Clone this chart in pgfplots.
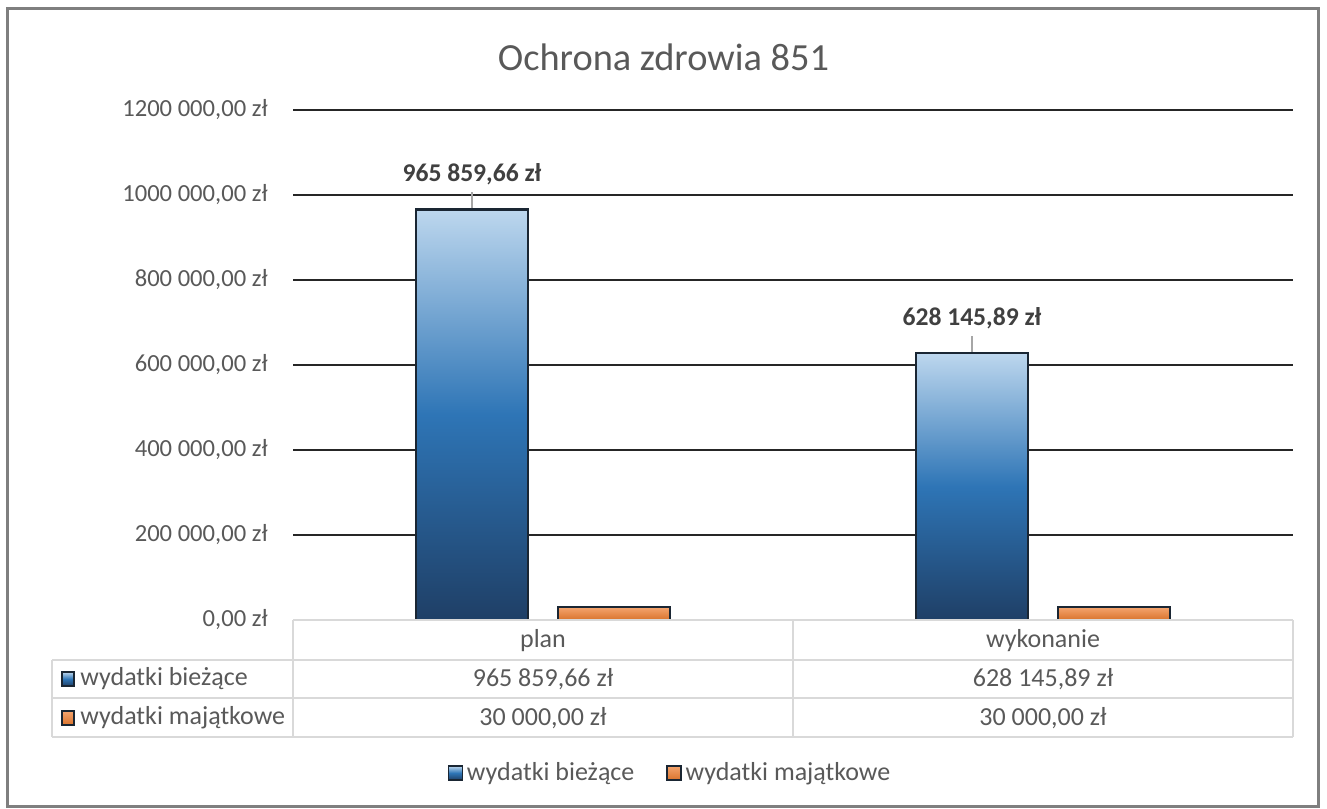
\documentclass[border=0pt]{standalone}
\usepackage{pgfplots}
\pgfplotsset{compat=1.18}
\usepackage{fontspec}
\setmainfont{Carlito}

\definecolor{txt}{HTML}{595959}
\definecolor{lbl}{HTML}{404040}
\definecolor{gridc}{HTML}{262626}
\definecolor{tbl}{HTML}{D9D9D9}
\definecolor{frame}{HTML}{7F7F7F}
\definecolor{ldr}{HTML}{A6A6A6}
\definecolor{blueT}{HTML}{BDD7EE}
\definecolor{blueM}{HTML}{2E75B6}
\definecolor{blueB}{HTML}{1F3F66}
\definecolor{orT}{HTML}{F4A46E}
\definecolor{orB}{HTML}{D9732C}
\definecolor{edge}{HTML}{1A2633}

\newcommand{\fs}{\fontsize{13}{15}\selectfont}
\newcommand{\ft}{\fontsize{12.3}{14}\selectfont}

\pgfplotsset{
  bluebar/.style={bar shift=-35.5pt, draw=edge, line width=1.1pt,
    top color=blueT, bottom color=blueB, middle color=blueM,
    point meta=explicit symbolic, nodes near coords,
    every node near coord/.append style={font=\bfseries\fontsize{12.8}{14}\selectfont, text=lbl, anchor=south, inner sep=0pt}},
  orbar/.style={bar shift=35.5pt, draw=edge, line width=1.1pt,
    top color=orT, bottom color=orB},
}

\begin{document}
\begin{tikzpicture}[x=1pt,y=1pt]
\path[use as bounding box] (0,0) rectangle (663.5,404);
\draw[frame, line width=1.5pt] (3.5,1) rectangle (659,399.5);

\node[text=txt, font=\fontsize{19.2}{22}\selectfont] at (331.75,375.5) {Ochrona zdrowia 851};

\begin{axis}[
    at={(146.5pt,94pt)}, anchor=south west,
    scale only axis, width=500pt, height=255pt,
    xmin=-0.5, xmax=1.5, ymin=0, ymax=1200000,
    axis line style={draw=none},
    xtick=\empty,
    ytick={200000,400000,600000,800000,1000000,1200000},
    yticklabels={{200 000,00 zł},{400 000,00 zł},{600 000,00 zł},{800 000,00 zł},{1000 000,00 zł},{1200 000,00 zł}},
    extra y ticks={0},
    extra y tick style={grid=none, yticklabel={0,00 zł}},
    ymajorgrids, grid style={gridc, line width=1.1pt},
    major tick length=0pt,
    yticklabel style={font=\ft, text=txt, inner sep=0pt},
    yticklabel shift=12.5pt,
    scaled y ticks=false,
    ybar, bar width=56pt,
    legend style={at={(0.378,-0.30)}, anchor=center, draw=none, fill=none,
        legend columns=2, font=\fs, text=txt,
        /tikz/every even column/.append style={column sep=14pt}},
    legend image code/.code={\draw[#1, line width=0.6pt] (0pt,-3.5pt) rectangle (7pt,3.5pt);},
]
% one path per bar, so that each bar carries its own gradient
\addplot[bluebar]
    coordinates {(0,965859.66) [{\shortstack{965 859,66 zł\\\rule{0pt}{8.5pt}\textcolor{ldr}{\rule{0.7pt}{8pt}}}}]};
\addlegendentry{wydatki bieżące}
\addplot[orbar] coordinates {(0,30000)};
\addlegendentry{wydatki majątkowe}
\addplot[bluebar, forget plot]
    coordinates {(1,628145.89) [{\shortstack{628 145,89 zł\\\rule{0pt}{8.5pt}\textcolor{ldr}{\rule{0.7pt}{8pt}}}}]};
\addplot[orbar, forget plot] coordinates {(1,30000)};
\end{axis}

% data table under the axis
\begin{scope}[tbl, line width=1pt]
\draw (146.5,94) -- (646.5,94);
\draw (26,74) -- (646.5,74);
\draw (26,55) -- (646.5,55);
\draw (26,35.5) -- (646.5,35.5);
\draw (26,35.5) -- (26,74);
\draw (146.5,35.5) -- (146.5,94);
\draw (396.5,35.5) -- (396.5,94);
\draw (646.5,35.5) -- (646.5,94);
\end{scope}
\begin{scope}[every node/.style={font=\fs, text=txt}]
\node at (271.5,83.5) {plan};
\node at (521.5,83.5) {wykonanie};
\node at (271.5,64.5) {965 859,66 zł};
\node at (521.5,64.5) {628 145,89 zł};
\node at (271.5,45) {30 000,00 zł};
\node at (521.5,45) {30 000,00 zł};
\node[anchor=west, inner sep=0pt] at (40,64.5) {wydatki bieżące};
\node[anchor=west, inner sep=0pt] at (40,45) {wydatki majątkowe};
\end{scope}
\draw[edge, line width=0.6pt, top color=blueT, bottom color=blueB, middle color=blueM] (31,61) rectangle (37,68);
\draw[edge, line width=0.6pt, top color=orT, bottom color=orB] (31,41.5) rectangle (37,48.5);
\end{tikzpicture}
\end{document}
